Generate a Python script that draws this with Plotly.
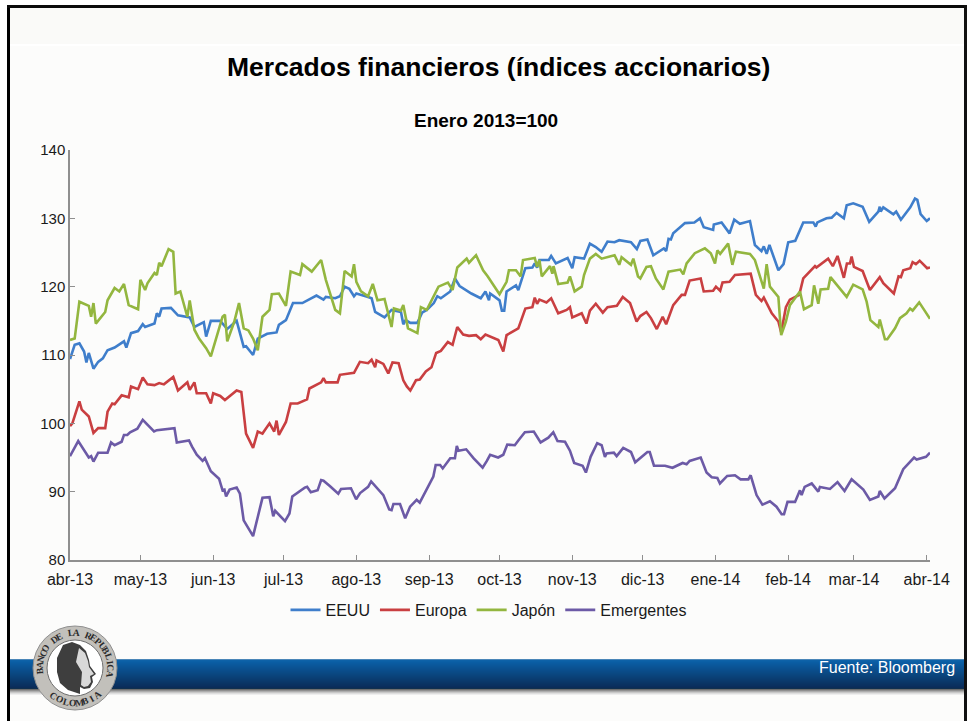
import math
import pandas as pd
import plotly.graph_objects as go

BASE_DATE = "2013-04-01"
TICK_DATES = ["2013-04-01","2013-05-01","2013-06-01","2013-07-01","2013-08-01","2013-09-01","2013-10-01",
              "2013-11-01","2013-12-01","2014-01-01","2014-02-01","2014-03-01","2014-04-01"]
TICK_LABELS = ["abr-13","may-13","jun-13","jul-13","ago-13","sep-13","oct-13","nov-13","dic-13","ene-14","feb-14","mar-14","abr-14"]

# days after 1 Apr 2013 and index value, read at the visible vertices of each line
eeuu_days = [0,2,4,6,7,8,10,12,14,16,19,23,24,26,29,31,32,36,37,38,39,43,46,51,53,57,58,60,64,67,71,74,75,78,80,84,88,89,92,95,99,105,108,109,113,115,
             117,119,121,122,127,128.5,130,133,134,137,141,142,143,145,148,150,152,155,156.5,158,162,164,166,171,175,177,178.5,179,183,184,185,186,190,191,194,197,198,199,200,204,205,207,212,214,215,219,221.5,224,226.5,229,232,234,239,241.5,
             243,246,248.5,253,254,255,256,257,262,266,268.4,270,274,274.3,277.6,281,283,285.4,289.7,291.8,294.6,295.6,296.8,298,301.8,304,306,309,312.4,316.7,317.7,318.4,322.3,324.5,326.6,329.7,330.9,333.7,337.7,340.5,344.4,345,345.4,346.5,350.8,352,354,358,360,361,362.4,365,366.4]
eeuu_vals = [109.4,111.5,111.7,110.5,108.9,110.3,108,109,109.5,110.7,111.1,112,111.1,113.2,113.5,114.5,114.1,114.6,116.1,115.6,116.8,116.9,115.8,115.5,114.1,114.8,112.7,115,115,113.8,115,111.2,111.3,110,112.4,113.1,113.3,114.4,115.1,117.6,117.6,118.7,118.1,118.5,118.3,118.6,
             120,119.7,118.6,119,118.5,118.3,116.3,115.7,115.5,116.6,116.3,114.5,115.1,114.7,114.7,116.2,116.6,117.6,118.6,118.3,119.3,121.2,120.1,119,118.3,119.3,118,119,118,116.5,116.5,119.3,120.2,119.5,122.7,122.8,123.4,122.8,123.9,123.9,124.5,123.4,124.2,122.7,124.3,124.1,126.3,125.8,125.1,126.6,126.5,126.8,126.5,125.5,
             126.7,126.9,124.6,125.6,125.2,127,126.9,127.8,129.3,129.4,130,128.7,128.3,129.1,129.4,127.8,129.8,129.2,129.6,126.1,125.2,125.9,124.8,126.1,122.4,123.3,126.5,126.7,129.4,129.4,128.8,129.4,130,130.1,130.8,130,131.9,132.2,131.7,129.5,131,131.7,131,131.6,130.6,131,129.8,131.6,132.9,132.7,130.6,129.6,130]

europa_days = [0,1,4,5,8,10,12,15,16,18,19,22,25,26,29,31,33,36,38,40,44,46,50,51,53,54,58,60,61,64,66,71,73,75,78,80,82,85,87,88,89,92,94,97,101,102,107,108,109,114,115,
               121,123.5,127,128.5,130,130.6,133.5,135.6,137.4,140,142,143.5,145,147.4,149,151.6,154,156,158,161,163,165,167.5,170,173,175,177,182.5,184.6,186,191,194,197,198,199,200,203,205,208,211.6,213,214,218,220,221.5,224,227,229,233,235.5,238.6,241.4,
               243,245.6,247.5,250,252.5,254,257,260.6,262,264,268.7,270,274,275.2,277,278,281,283.3,290,292.2,294.6,295.6,299,301.8,303,305,306.7,310.7,312.4,317.4,318,323,325,327,329.7,331,332.3,333,334,337.7,340.8,345,346.5,351,353,354,355,358,359,360.4,362,365.2,366.4]
europa_vals = [99.6,100,103.2,102,101,98.6,99.3,99.3,101.7,102.9,102.8,104.1,103.8,105.4,105,106.7,105.7,105.6,105.9,105.7,106.8,104.8,106,104.9,106,104.4,104.4,102.9,104.4,104,103.4,104.8,104.6,98.5,96.4,98.8,98.5,100,98.8,100.4,98.3,100.2,102.9,102.9,103.5,105.1,106,106.6,106,106,107.1,
               107.4,109,108.8,109.3,108.2,109.2,108.7,107.3,108.9,108.8,106.3,105.4,104.8,106.3,106.4,107.6,108.2,110.3,110.6,111.9,111.5,114.1,113,112.8,112.9,112.3,113,112.2,110.5,112.9,113.9,116.8,117,118.4,117.5,118.1,117.7,118.3,116.1,116.6,117,115.5,116.1,114.6,116.5,117.5,116.2,117,117.2,118.5,117.6,114.9,
               115.7,116.3,115.4,113.8,115.6,114.5,117.3,118.8,118.8,120.9,121.2,119.3,119.4,120,119.4,120.6,120.7,121.7,121.9,118.8,117.9,118.4,116.1,114.9,113.3,117,118.1,118.8,121.2,123,122.8,124.1,123,124.5,121.3,123.4,123.4,124.4,122.9,122.3,119.5,121.4,120.5,119,121.5,121.4,122.4,122.7,123.6,123.3,123.8,122.7,122.8]

japon_days = [0,2,4,8,9,10,11,15,16,19,21,23,25,29,30,32,33,36,37,38,39,42,44,45,47,50,51,53,55,58,60,62,65,66,67,70,72,74,76,78,80,82,85,86,89,92,94,98,99,103,107,109,113,115,
              117,120,121,122,124,127,129,131,134,137,138,141,142,144,148,149.5,152,157,161,163,165,169,170,173,176,178,183,186,187,190,192,193,198,199,200,201,204.5,205.5,206,208,212,213,215,218,219,221.5,224,226.5,232,234,235,239,240,242,
              243,245.6,247.5,249.6,252.8,255,260,261.3,262.7,266.2,270.5,273,274.8,275.8,277,280.4,282.2,283.7,289.7,291.8,295.6,296.8,298.2,301.8,303,305,306.7,311,312.7,316,317,318.8,319.8,323,324,330.9,333.7,337.7,339.4,341,344.4,345,347.2,348.2,351.5,353.6,356.4,357.9,359,361.8,366.4]
japon_vals = [112.2,112.4,117.8,117.2,115.6,117.6,114.6,116.3,118,119.8,119.3,120.4,117.3,116.7,121,119.5,120.5,122,121.7,123.5,123,125.5,125.1,119,119.3,115.6,118,113.7,112.4,111,109.8,112.2,115.6,115.9,112,114.9,117.6,113.9,113.6,112.4,110.7,115.6,116.6,118.9,119,117.2,122.2,121.7,123.3,122.2,123.9,121,116.6,116.1,
              122.3,121.5,123.3,120.7,119.3,118.6,120.4,118,118.2,114.1,116.8,116.5,117.3,113.9,113.2,117,116.6,120,120.6,119.5,122.8,124.1,123.5,124.6,122.4,121.5,118.9,120.7,122.4,122.4,121.5,123.9,124.2,122.9,123.9,121.5,123,121.9,123,120.4,120.6,121.5,119.3,120,121.7,124.1,124.8,124.1,124.6,123.2,124.3,123.2,124.1,121.5,
              121.2,122.9,123,121.2,119.6,122.2,122.5,121.8,123.4,124.9,125.6,124.9,123.4,125.3,124.8,126.3,123.2,125.1,124.8,123.9,119.7,123.3,120,118.5,112.9,114.9,117.3,119.3,116.7,117.3,120.2,117.5,119.6,119.7,121.4,118.5,120.3,119.6,117.8,115.1,114.1,115.2,112.3,112.3,113.9,115.4,116.1,116.8,116.5,117.7,115.3]

emergentes_days = [0,3.5,8,9,10,12,16,17.5,19,22,23,24.4,25.6,28.7,31,33.4,35.8,37,44.5,45.5,50.7,52,54,56.5,57.5,60,63.5,65,65.8,66.5,68,71,72.4,74,78,80,82,85,86.6,87.4,91.6,93.5,94.7,100,101,102.6,105.5,107,108,110.8,114.3,115.5,119.7,121.9,123.6,127,128.3,133.5,136,137,137.8,140.6,142.8,144.9,147.7,149,153.4,154.8,155.8,157.7,158.8,162,164,164.8,165.5,168.8,171.9,175.8,177.6,
                   179,182.4,184.6,186.3,189.5,191,193.8,197.6,200.5,203.8,205.9,207.7,210.9,213,214.8,218.4,219.8,221.8,224.6,226.5,227.9,228.6,231.7,232.9,235.7,239,240.8,246,247,248.8,253.5,256.7,261,262.7,264,268.7,271.2,273.4,275.8,276.9,280,283.3,285.7,289,290,292.5,295,298.2,301,303.2,304.2,305.7,308.9,311,311.7,313,316,318.8,319.5,323.8,327,330,333,338,340.8,344.4,345,347,351.5,355,359.6,360.7,364.7,366.4]
emergentes_vals = [95.2,97.4,95,95.2,94.4,95.7,95.7,97.2,96.8,97.3,98.3,98.3,98.7,99.2,100.5,99.6,98.8,99,99.3,97.2,97.5,96.6,95.4,94.5,94.9,93,91.9,90.2,90.3,89.3,90.3,90.6,89.7,85.8,83.5,86.3,89.1,89.2,86.4,87.2,85.7,86.8,89.3,90.6,90.7,89.9,90.2,91.7,91.6,90.8,89.7,90.4,90.5,88.9,89.8,90.7,91.5,89.5,87.4,87.3,88.2,88.2,86.1,87.8,88.8,88.4,91.2,92.2,93.9,93.9,93.4,94.9,94.9,96.7,96,96.2,94.9,93.5,94.5,
                   95.4,95,95.4,96.9,96.8,97.5,98.7,98.8,97.2,97.9,98.7,97.4,97.3,96,94.2,93.8,92.8,95.1,97.1,96.8,95.1,95.6,95.7,95.2,96.4,95.8,94.3,95.8,95.8,93.8,93.8,93.5,94.2,94,94.5,95,92.8,92.1,92,91.2,92.3,92.4,91.8,91.8,92.4,89.5,88.1,88.6,87.8,86.7,86.7,88.5,88.5,90.2,89.5,90.7,91.2,90,90.7,90.4,91.4,90.1,91.8,90.3,88.8,89.3,90.1,89,90.5,93.3,95,94.7,95.1,95.7]

series = [("EEUU", eeuu_days, eeuu_vals, "#3f7ecb"),
          ("Europa", europa_days, europa_vals, "#c93f41"),
          ("Japón", japon_days, japon_vals, "#93b63f"),
          ("Emergentes", emergentes_days, emergentes_vals, "#6c5aa6")]

W, H = 967, 721
L, R, T, B = 70, 37, 150, 161
pw, ph = W - L - R, H - T - B
def px(x): return (x - L) / pw
def py(y): return 1 - (y - T) / ph

fig = go.Figure()
base = pd.Timestamp(BASE_DATE)
for name, days, vals, color in series:
    dates = [base + pd.Timedelta(days=d) for d in days]
    fig.add_trace(go.Scatter(x=dates, y=vals, name=name, mode="lines",
                             line=dict(color=color, width=2.6)))

shapes = []
def rect(x0, y0, x1, y1, color, layer="below"):
    shapes.append(dict(type="rect", xref="paper", yref="paper", x0=px(x0), x1=px(x1), y0=py(y0), y1=py(y1),
                       fillcolor=color, line=dict(width=0), layer=layer))

# slide background and frame
rect(7, 5, 967, 721, "#fcfcfb")
rect(10, 8, 964, 44, "#fafaf8")
rect(10, 44, 964, 46, "#ffffff")
rect(7, 5, 10, 721, "#000000")
rect(7, 5, 967, 8, "#0a0a0a")
rect(964, 5, 967, 721, "#111111")

# blue band with soft shadow
band = ["#4a86b8","#0e62a8","#0b60a6","#0a5da3","#0a5ba0","#0a599d","#0a579a","#0a5597","#0a5394","#0a5191",
        "#0a4f8e","#0a4d8b","#0a4b88","#0a4a85","#0a4882","#0a467f","#0a447c","#0a4279","#0a4076","#0a3e73",
        "#0a3c70","#0a3a6d","#0a386a","#0a3667","#0a3464","#0a3261","#0a3060","#0a2e5c","#0b2c58","#10304f"]
for i, c in enumerate(band):
    rect(10, 659 + i, 964, 660 + i, c)
for i, c in enumerate(["#6e6e6e","#8f8f8f","#adadad","#c8c8c8","#dedede","#eeeeee"]):
    rect(10, 689 + i, 964, 690 + i, c)

# seal
cx, cy = 75, 668
def circle(r, fill, line="#8a8a8a", lw=1):
    shapes.append(dict(type="circle", xref="paper", yref="paper",
                       x0=px(cx - r), x1=px(cx + r), y0=py(cy + r), y1=py(cy - r),
                       fillcolor=fill, line=dict(color=line, width=lw), layer="above"))
circle(42, "#c2c0bb", "#8f8f8f", 1)
circle(28, "#ffffff", "#6f6f6f", 1)
head = [(63,645),(72,642),(80,645),(86,651),(89,660),(90,666),(96,674),(92,677),(93,682),(90,688),(84,689),(80,687),
        (80,694),(68,690),(60,683),(57,672),(57,658)]
shapes.append(dict(type="path", xref="paper", yref="paper", layer="above", fillcolor="#3e3e3e", line=dict(width=0),
                   path="M " + " L ".join(f"{px(x):.5f},{py(y):.5f}" for x, y in head) + " Z"))
face = [(79,648),(85,653),(88,661),(89,667),(94,674),(90,676),(91,682),(88,686),(84,687),(81,685),(82,672),(76,662)]
shapes.append(dict(type="path", xref="paper", yref="paper", layer="above", fillcolor="#d9d9d9", line=dict(width=0),
                   path="M " + " L ".join(f"{px(x):.5f},{py(y):.5f}" for x, y in face) + " Z"))

annotations = [
    dict(text="<b>Mercados financieros (índices accionarios)</b>", x=px(498), y=py(67), font=dict(size=26.5, color="#000000")),
    dict(text="<b>Enero 2013=100</b>", x=px(486), y=py(121), font=dict(size=19, color="#000000")),
    dict(text="Fuente: Bloomberg", x=px(957), y=py(667), xanchor="right", font=dict(size=16, color="#ffffff")),
]
def arc_text(text, start, end, r):
    n = len(text)
    for i, ch in enumerate(text):
        if ch == " ":
            continue
        a = start + (end - start) * i / (n - 1)
        x = cx + r * math.sin(math.radians(a))
        y = cy - r * math.cos(math.radians(a))
        ang = a if abs(a) < 120 else a - 180
        annotations.append(dict(text=f"<b>{ch}</b>", x=px(x), y=py(y), textangle=ang,
                                font=dict(size=9.5, family="Liberation Serif", color="#2b2b2b")))
arc_text("BANCO DE LA REPUBLICA", -95, 100, 35)
arc_text("COLOMBIA", 218, 140, 35)

for a in annotations:
    a.update(xref="paper", yref="paper", showarrow=False)
    a.setdefault("xanchor", "center")
    a.setdefault("yanchor", "middle")

fig.update_layout(
    width=W, height=H, margin=dict(l=L, r=R, t=T, b=B, pad=0),
    paper_bgcolor="#ffffff", plot_bgcolor="rgba(0,0,0,0)",
    font=dict(family="Liberation Sans", color="#000000"),
    shapes=shapes, annotations=annotations,
    showlegend=True,
    legend=dict(orientation="h", x=px(489), y=py(610), xanchor="center", yanchor="middle",
                font=dict(family="Liberation Sans", size=16, color="#1a1a1a"),
                bgcolor="rgba(0,0,0,0)", itemwidth=30, traceorder="normal"),
    xaxis=dict(type="date", range=[base, base + pd.Timedelta(days=366.4)],
               tickvals=[pd.Timestamp(d) for d in TICK_DATES], ticktext=TICK_LABELS,
               ticks="inside", ticklen=5, tickcolor="#8f8f8f", tickwidth=1,
               showline=True, linecolor="#8f8f8f", linewidth=1.5, showgrid=False, zeroline=False,
               tickfont=dict(family="Liberation Sans", size=16, color="#1a1a1a"), tickangle=0,
               ticklabelstandoff=4),
    yaxis=dict(range=[80, 140], tickvals=[80,90,100,110,120,130,140],
               ticks="inside", ticklen=5, tickcolor="#8f8f8f", tickwidth=1,
               showline=True, linecolor="#8f8f8f", linewidth=1.5, showgrid=False, zeroline=False,
               tickfont=dict(family="Liberation Sans", size=15, color="#1a1a1a")),
)
fig.write_html("out.html", config={"displayModeBar": False},
               post_script="document.body.style.margin='0';document.documentElement.style.overflow='hidden';")
